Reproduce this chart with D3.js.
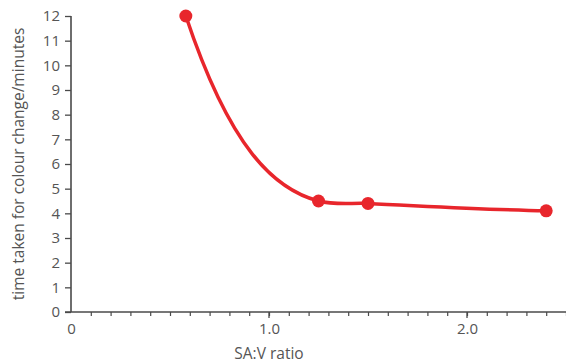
<!DOCTYPE html>
<html><head><meta charset="utf-8">
<script src="https://cdn.jsdelivr.net/npm/d3@7"></script>
<style>body{margin:0;background:#fff}svg{display:block}</style>
</head><body><svg id="c" width="566" height="364"></svg>
<script>
const saRatio = [0.58, 1.25, 1.5, 2.4];
const timeMinutes = [12, 4.5, 4.4, 4.1];
const yTicks = [0,1,2,3,4,5,6,7,8,9,10,11,12];
const xTickLabels = ["0","1.0","2.0"];
const xTickValues = [0,1,2];
const xLabel = "SA:V ratio";
const yLabel = "time taken for colour change/minutes";

// Custom cubic Hermite curve: interior tangents = geometric mean of adjacent
// secants (smooth decay shape), end tangents scaled from end secants.
function curveDecay(startScale, endScale) {
  return function(context) {
    let pts = [];
    return {
      areaStart(){}, areaEnd(){},
      lineStart(){ pts = []; },
      point(x, y){ pts.push([+x, +y]); },
      lineEnd(){
        const n = pts.length;
        if (!n) return;
        context.moveTo(pts[0][0], pts[0][1]);
        if (n === 1) return;
        const s = [];
        for (let i = 0; i < n - 1; i++) s.push((pts[i+1][1]-pts[i][1])/(pts[i+1][0]-pts[i][0]));
        const m = new Array(n);
        for (let i = 1; i < n - 1; i++) {
          const p = s[i-1]*s[i];
          m[i] = p > 0 ? Math.sign(s[i]) * Math.sqrt(p) : 0;
        }
        m[0] = s[0]*startScale;
        m[n-1] = s[n-2]*endScale;
        if (n === 2) { m[0] = m[1] = s[0]; }
        for (let i = 0; i < n - 1; i++) {
          const [x0,y0] = pts[i], [x1,y1] = pts[i+1], h = (x1-x0)/3;
          context.bezierCurveTo(x0+h, y0+h*m[i], x1-h, y1-h*m[i+1], x1, y1);
        }
      }
    };
  };
}

const svg = d3.select("#c");
const x = d3.scaleLinear().domain([0,2.5]).range([71,566]);
const y = d3.scaleLinear().domain([0,12]).range([312,16]);
const axisColor = "#4a4a4a", textColor = "#555", red = "#e8262c";
const font = "'Open Sans', sans-serif";

// y axis
const ya = svg.append("g").attr("transform","translate(71,0)")
  .call(d3.axisLeft(y).tickValues(yTicks).tickSize(6).tickPadding(5).tickFormat(d3.format("d")));
ya.select(".domain").attr("stroke",axisColor).attr("stroke-width",1.6).attr("d",`M0,${y(12)}V${y(0)}`);
ya.selectAll(".tick line").attr("stroke",axisColor).attr("stroke-width",1.3);
ya.selectAll(".tick text").attr("fill",textColor).style("font-family",font).style("font-size","15px");

// x axis minor ticks
const minor = d3.range(1,26).map(i=>i/10);
const xa = svg.append("g").attr("transform","translate(0,312)")
  .call(d3.axisBottom(x).tickValues(minor).tickSize(4).tickFormat(""));
xa.select(".domain").attr("stroke",axisColor).attr("stroke-width",1.6).attr("d",`M${x(0)-6},0H566`);
xa.selectAll(".tick line").attr("stroke",axisColor).attr("stroke-width",1.2);
const xl = svg.append("g").attr("transform","translate(0,312)")
  .call(d3.axisBottom(x).tickValues(xTickValues).tickSize(0).tickPadding(11).tickFormat((d,i)=>xTickLabels[i]));
xl.select(".domain").remove();
xl.selectAll(".tick text").attr("fill",textColor).style("font-family",font).style("font-size","15px");
svg.append("line").attr("x1",x(1)).attr("x2",x(1)).attr("y1",312).attr("y2",318).attr("stroke",axisColor).attr("stroke-width",1.3);
svg.append("line").attr("x1",x(2)).attr("x2",x(2)).attr("y1",312).attr("y2",318).attr("stroke",axisColor).attr("stroke-width",1.3);

// labels
svg.append("text").attr("x",x(1)).attr("y",359).attr("text-anchor","middle")
  .attr("fill",textColor).style("font-family",font).style("font-size","15.5px").text(xLabel);
svg.append("text").attr("transform",`translate(24,${(y(0)+y(12))/2}) rotate(-90)`).attr("text-anchor","middle")
  .attr("fill",textColor).style("font-family",font).style("font-size","15.5px").text(yLabel);

// line
const data = saRatio.map((v,i)=>({x:v,y:timeMinutes[i]}));
svg.append("path").datum(data)
  .attr("d",d3.line().x(d=>x(d.x)).y(d=>y(d.y)).curve(curveDecay(2.15, 0.5)))
  .attr("fill","none").attr("stroke",red).attr("stroke-width",3.5);
svg.selectAll("circle").data(data).join("circle")
  .attr("cx",d=>x(d.x)).attr("cy",d=>y(d.y)).attr("r",6.5).attr("fill",red);
</script></body></html>
